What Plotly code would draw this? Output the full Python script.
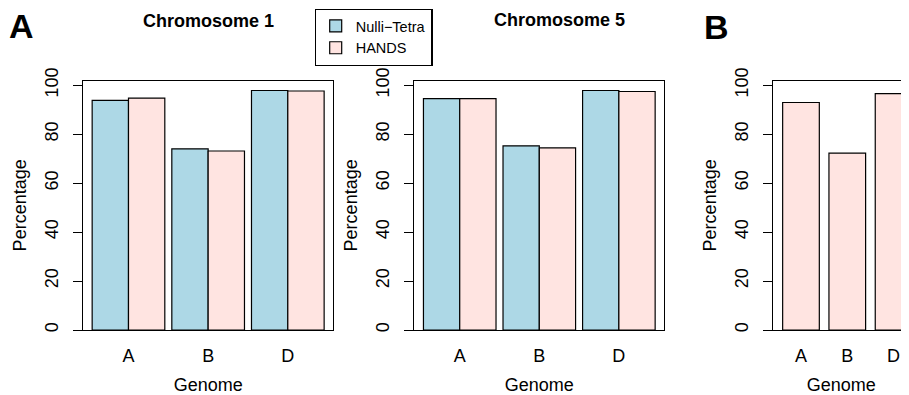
import plotly.graph_objects as go

genomes = ["A", "B", "D"]
chr1_nulli = [93.8, 74.0, 97.8]
chr1_hands = [94.7, 73.1, 97.6]
chr5_nulli = [94.5, 75.2, 97.8]
chr5_hands = [94.5, 74.4, 97.4]
b_hands = [92.9, 72.2, 96.5]
y_ticks = [0, 20, 40, 60, 80, 100]

BLUE = "#ADD8E6"
PINK = "#FFE4E1"
FONT = "Liberation Sans, Arial, Helvetica, sans-serif"
OFF = 8  # page body margin
W, H = 909 - OFF, 395 - OFF

def px(x):
    return (x - OFF) / W

def py(y):
    return 1 - (y - OFF) / H

fig = go.Figure()
line = dict(color="black", width=1.2)

def add_pair(nulli, hands, ax, show):
    fig.add_trace(go.Bar(x=genomes, y=nulli, name="Nulli\u2212Tetra", marker=dict(color=BLUE, line=line),
                         offset=-0.456, width=0.456, xaxis="x" + ax, yaxis="y" + ax,
                         showlegend=show))
    fig.add_trace(go.Bar(x=genomes, y=hands, name="HANDS", marker=dict(color=PINK, line=line),
                         offset=0, width=0.456, xaxis="x" + ax, yaxis="y" + ax,
                         showlegend=show))

add_pair(chr1_nulli, chr1_hands, "", True)
add_pair(chr5_nulli, chr5_hands, "2", False)
fig.add_trace(go.Bar(x=genomes, y=b_hands, name="HANDS", marker=dict(color=PINK, line=line),
                     offset=-0.396, width=0.792, xaxis="x3", yaxis="y3", showlegend=False))

ybot, ytop = py(330), py(80.7)
doms = [(px(83), px(333.3)), (px(414.3), px(664.3)), (px(773.3), 1.0)]
xranges = [[-0.571, 2.571], [-0.571, 2.571], [-0.598, 2.333]]
tf = dict(family=FONT, size=18, color="black")

layout = dict(
    width=W, height=H, margin=dict(l=0, r=0, t=0, b=0, autoexpand=False),
    paper_bgcolor="white", plot_bgcolor="white",
    barmode="overlay", font=tf,
    legend=dict(x=px(314.5), y=py(8.8), xanchor="left", yanchor="top",
                bordercolor="black", borderwidth=1.2, bgcolor="white",
                font=dict(family=FONT, size=14.5, color="black"), tracegroupgap=0,
                itemwidth=30, traceorder="normal"),
)
for i, (d, xr) in enumerate(zip(doms, xranges)):
    s = "" if i == 0 else str(i + 1)
    layout["xaxis" + s] = dict(domain=list(d), range=xr, type="category", anchor="y" + s,
                               automargin=False,
                               showline=True, mirror=True, linecolor="black", linewidth=1.2,
                               ticks="", showgrid=False, tickfont=tf, ticklabelstandoff=9,
                               title=dict(text="Genome", font=tf, standoff=13))
    layout["yaxis" + s] = dict(domain=[ybot, ytop], range=[0, 101.8], anchor="x" + s,
                               automargin=False,
                               showline=True, mirror=(i < 2), linecolor="black", linewidth=1.2,
                               ticks="outside", ticklen=9, tickwidth=1.2, tickcolor="black",
                               tickvals=y_ticks, tickangle=-90, showgrid=False, zeroline=False,
                               tickfont=tf, ticklabelstandoff=8,
                               title=dict(text="Percentage", font=tf, standoff=10))
fig.update_layout(**layout)

ann = [
    dict(text="<b>Chromosome 1</b>", x=px(208.8), y=py(20.7)),
    dict(text="<b>Chromosome 5</b>", x=px(559.7), y=py(20.5)),
]
for a in ann:
    fig.add_annotation(xref="paper", yref="paper", showarrow=False, xanchor="center", yanchor="middle",
                       font=dict(family=FONT, size=18, color="black"), **a)
for t, x, y in [("A", 21, 26), ("B", 716, 26.5)]:
    fig.add_annotation(text="<b>%s</b>" % t, xref="paper", yref="paper", x=px(x), y=py(y),
                       showarrow=False, xanchor="center", yanchor="middle",
                       font=dict(family=FONT, size=34, color="black"))

fig.write_html("out.html")
